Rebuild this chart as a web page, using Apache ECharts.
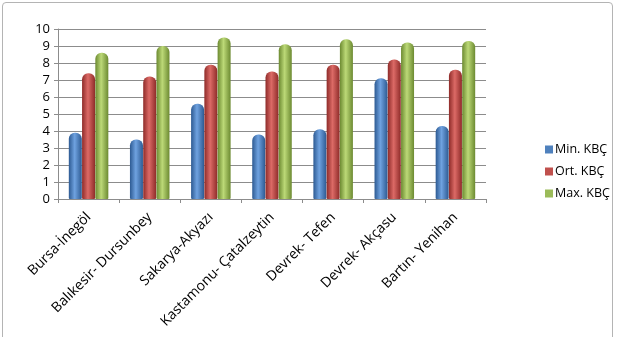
<!DOCTYPE html>
<html>
<head>
<meta charset="utf-8">
<script src="https://cdn.jsdelivr.net/npm/echarts@6/dist/echarts.min.js"></script>
<style>
	html, body { margin: 0; padding: 0; background: #fff; }
	#frame { position: absolute; left: 2px; top: 2px; width: 611px; height: 340px; border: 1.5px solid #b4b4b4; border-radius: 4px; box-sizing: border-box; }
	#chart { position: absolute; left: 0; top: 0; width: 617px; height: 337px; }
</style>
</head>
<body>
<div id="frame"></div>
<div id="chart"></div>
<script>
// data
const categories = ["Bursa-İnegöl", "Balıkesir- Dursunbey", "Sakarya-Akyazı", "Kastamonu- Çatalzeytin", "Devrek- Tefen", "Devrek- Akçasu", "Bartın- Yenihan"];
const minKbc = [3.9, 3.5, 5.6, 3.8, 4.1, 7.1, 4.3];
const ortKbc = [7.4, 7.2, 7.9, 7.5, 7.9, 8.2, 7.6];
const maxKbc = [8.6, 9.0, 9.5, 9.1, 9.4, 9.2, 9.3];
const seriesNames = ["Min. KBÇ", "Ort. KBÇ", "Max. KBÇ"];
const flatColors = ["#4f81bd", "#c0504d", "#9bbb59"];

const font = "'Open Sans', 'Liberation Sans', sans-serif";

// cylinder look: dark edges, light middle
function cyl(dark, light) {
	return new echarts.graphic.LinearGradient(0, 0, 1, 0, [
		{ offset: 0, color: dark },
		{ offset: 0.45, color: light },
		{ offset: 1, color: dark },
	]);
}

function mkSeries(name, data, dark, light) {
	return {
		name: name,
		type: "bar",
		barWidth: 13,
		barGap: "2%",
		data: data,
		itemStyle: {
			color: cyl(dark, light),
			borderRadius: [6, 6, 1, 1],
		},
	};
}

const chart = echarts.init(document.getElementById("chart"));
chart.setOption({
	animation: false,
	textStyle: { fontFamily: font },
	grid: {
		left: 58,
		right: 131,
		top: 29,
		bottom: 138,
	},
	legend: {
		orient: "vertical",
		left: 540,
		top: 138,
		itemWidth: 8,
		itemHeight: 8,
		itemGap: 9,
		icon: "rect",
		itemStyle: { borderWidth: 0 },
		textStyle: { fontSize: 12.5, color: "#000", fontFamily: font, padding: [0, 0, 0, -3] },
		data: seriesNames.map((n, i) => ({
			name: n,
			itemStyle: { color: flatColors[i], borderWidth: 0, borderRadius: 0 },
		})),
	},
	xAxis: {
		type: "category",
		data: categories,
		axisLine: { lineStyle: { color: "#8c8c8c" } },
		axisTick: { show: true, length: 4, lineStyle: { color: "#8c8c8c" } },
		axisLabel: {
			interval: 0,
			rotate: 45,
			margin: 16,
			fontSize: 14,
			color: "#000",
			fontFamily: font,
		},
	},
	yAxis: {
		type: "value",
		min: 0,
		max: 10,
		interval: 1,
		axisLine: { show: true, lineStyle: { color: "#8c8c8c" } },
		axisTick: { show: true, length: 4, lineStyle: { color: "#8c8c8c" } },
		axisLabel: { fontSize: 13, color: "#000", margin: 8, fontFamily: font },
		splitLine: { lineStyle: { color: "#8c8c8c", width: 1 } },
	},
	series: [
		mkSeries(seriesNames[0], minKbc, "#2d5a92", "#6fa2e0"),
		mkSeries(seriesNames[1], ortKbc, "#8e2b29", "#dc6a66"),
		mkSeries(seriesNames[2], maxKbc, "#6c8a31", "#bcd977"),
	],
});
</script>
</body>
</html>
